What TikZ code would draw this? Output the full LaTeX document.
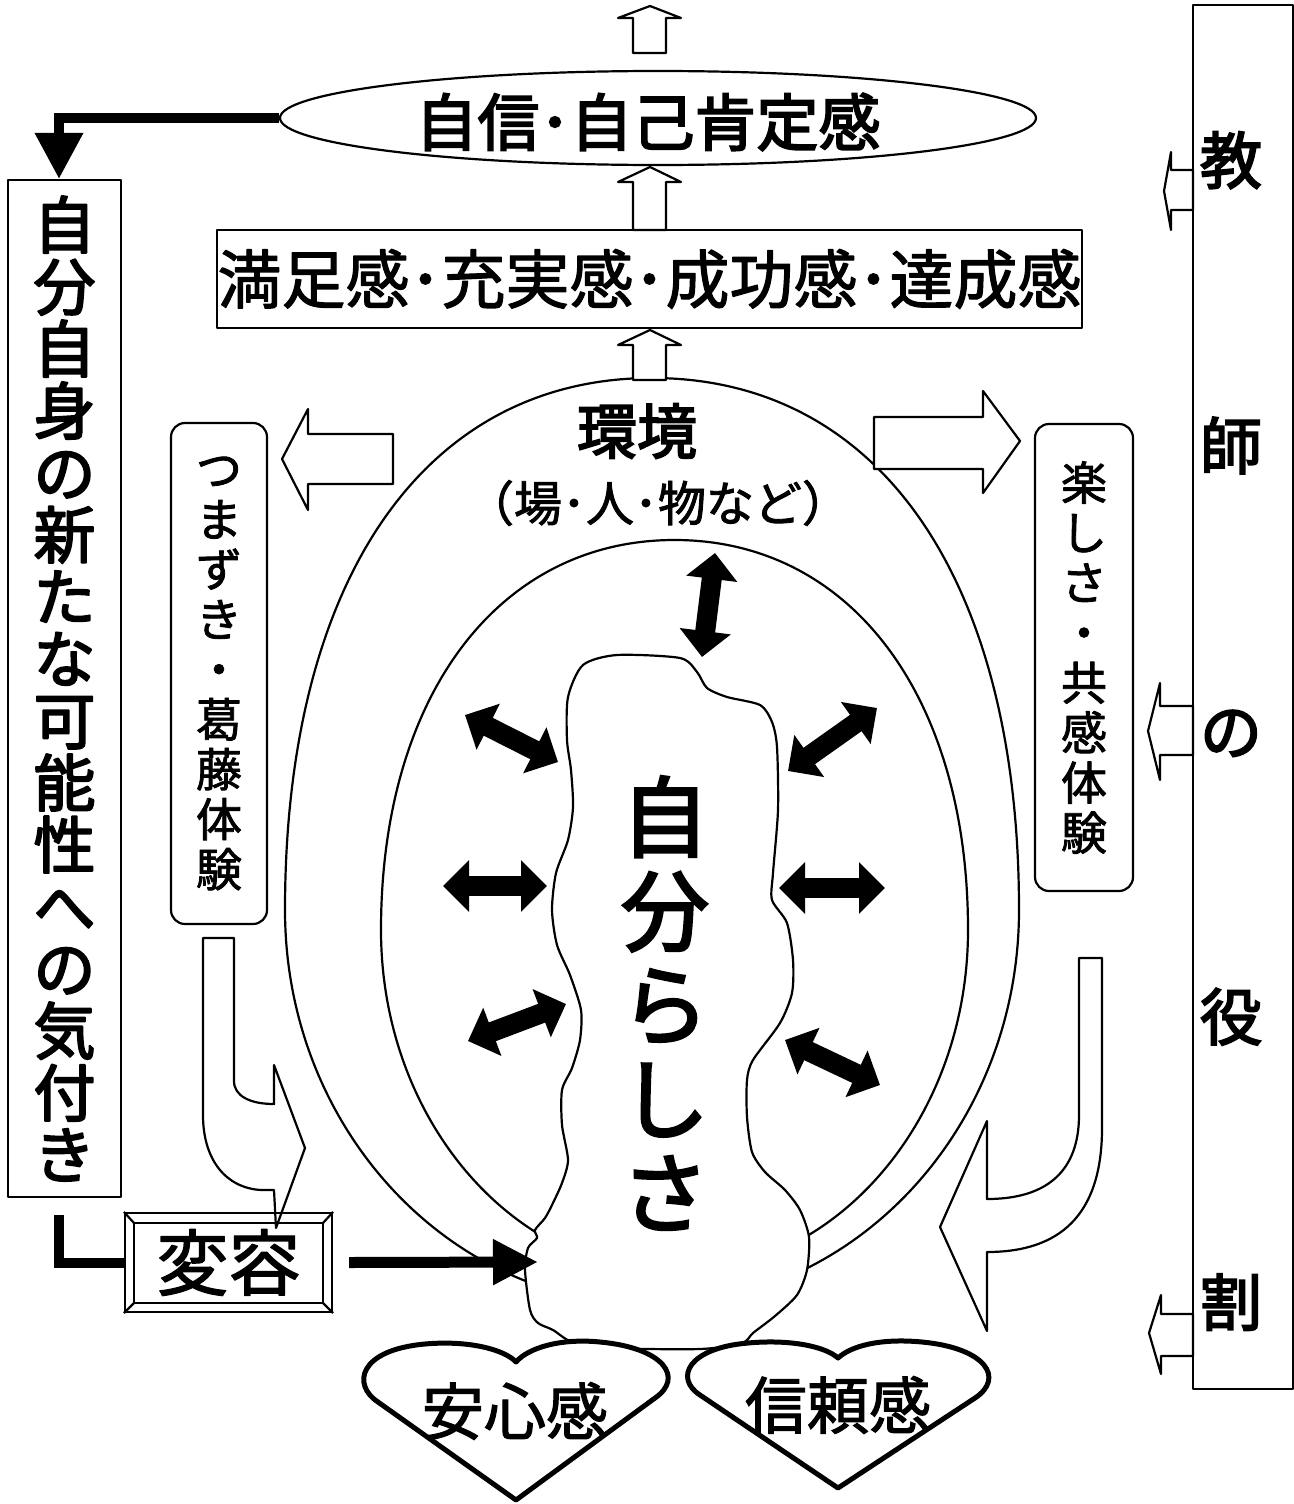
\documentclass[tikz,border=0pt]{standalone}
\usepackage{fontspec}
\setmainfont{Noto Sans CJK JP}
\newfontfamily\jpb{Noto Sans CJK JP}[FakeBold=3]
\newfontfamily\jpm{Noto Sans CJK JP}[FakeBold=1.8]
\usetikzlibrary{shapes.geometric,arrows.meta,calc}
\begin{document}
\begin{tikzpicture}[x=0.5pt,y=-0.5pt,
  ln/.style={line width=1.1pt, line join=round},
  openarr/.style={ln, fill=white},
  dblarr/.style={line width=10pt, {Triangle[width=25pt,length=13pt]}-{Triangle[width=25pt,length=13pt]}},
  thickconn/.style={line width=5pt},
  heartsh/.style={line width=2.5pt, fill=white, line join=round},
  vbox/.style={draw, ln, align=center, inner sep=0pt},
  txt/.style={inner sep=0pt, align=center},
]
\fill[white] (0,0) rectangle (1294,1504);
\useasboundingbox (0,0) rectangle (1294,1504);

% ---- environment (outer) and inner oval
\draw[ln] (285,910) .. controls (285,580) and (424,378) .. (652,378)
  .. controls (880,378) and (1019,580) .. (1019,910)
  .. controls (1019,1128) and (855,1305) .. (652,1305)
  .. controls (449,1305) and (285,1128) .. (285,910) -- cycle;
\draw[ln] (381,930) .. controls (381,696) and (498.5,540) .. (674.5,540)
  .. controls (850.5,540) and (968,696) .. (968,930)
  .. controls (968,1119) and (836.5,1273) .. (674.5,1273)
  .. controls (512.5,1273) and (381,1119) .. (381,930) -- cycle;

% ---- central blob
\draw[ln, fill=white] plot[smooth cycle, tension=0.45] coordinates {
 (568,697) (583,665) (617,655) (680,658) (697,672) (707,688) (727,697) (760,705) (772,722)
 (777,747) (778,810) (773,873) (772,900) (787,923) (793,960) (792,993) (780,1023) (753,1060)
 (747,1080) (747,1117) (752,1152) (765,1172) (785,1190) (800,1210) (809,1237) (807,1270)
 (797,1295) (775,1316) (753,1333) (742,1343) (700,1349) (608,1348) (572,1342) (553,1330)
 (538,1323) (530,1310) (525,1270) (528,1248) (537,1238) (535,1230) (545,1218) (552,1205)
 (562,1183) (568,1160) (562,1125) (562,1090) (572,1068) (580,1040) (581,1010) (570,975)
 (557,945) (552,910) (556,873) (568,840) (573,807) (571,770) (567,740)};
\node[txt, font={\jpb\fontsize{44pt}{47pt}\selectfont\lineskiplimit=-100pt}] (jibun) at (665,1003) {自\\分\\ら\\し\\さ};

\node[txt, font={\jpb\fontsize{30pt}{30pt}\selectfont}] (kankyo) at (637,431) {環境};
\node[txt, font={\jpm\fontsize{24pt}{24pt}\selectfont}] (kankyo2) at (658,503) {（場･人･物など）};

% ---- double arrows
\coordinate (d1a) at (702,657); \coordinate (d1b) at (715,553);
\coordinate (d2a) at (465,715); \coordinate (d2b) at (558,762);
\coordinate (d3a) at (443,886); \coordinate (d3b) at (547,886);
\coordinate (d4a) at (468,1041); \coordinate (d4b) at (566,1004);
\coordinate (d5a) at (788,771); \coordinate (d5b) at (877,708);
\coordinate (d6a) at (779,888); \coordinate (d6b) at (885,888);
\coordinate (d7a) at (785,1040); \coordinate (d7b) at (880,1085);
\foreach \i in {1,...,7} {\draw[dblarr] (d\i a) -- (d\i b);}

% ---- hearts
\draw[heartsh] (516,1500) -- (378,1402) .. controls (352,1385) and (358,1350) .. (425,1344)
  .. controls (470,1340) and (505,1350) .. (516,1362) .. controls (528,1348) and (560,1338) .. (600,1342)
  .. controls (665,1348) and (684,1378) .. (655,1398) -- cycle;
\node[txt, font={\jpm\fontsize{31pt}{31pt}\selectfont}] (anshin) at (515,1411) {安心感};
\draw[heartsh] (838,1488) -- (700,1395) .. controls (674,1378) and (688,1348) .. (748,1343)
  .. controls (792,1339) and (826,1347) .. (838,1358) .. controls (851,1346) and (880,1338) .. (922,1342)
  .. controls (986,1348) and (1005,1378) .. (975,1398) -- cycle;
\node[txt, font={\jpm\fontsize{31pt}{31pt}\selectfont}] (shinrai) at (838,1405) {信頼感};

% ---- top part
\node[draw, ln, ellipse, minimum width=378pt, minimum height=47pt, inner sep=0pt] (jishin) at (658,118) {};
\node[txt, font={\jpb\fontsize{31pt}{31pt}\selectfont}] (jishinT) at (648,122) {自信･自己肯定感};
\node[draw, ln, minimum width=432.5pt, minimum height=49pt, inner sep=0pt,
  font={\jpm\fontsize{32pt}{32pt}\selectfont}] (manzoku) at (649.5,279) {満足感･充実感･成功感･達成感};

% open up arrows
\draw[openarr] (650,6) -- (681,18) -- (666,18) -- (666,53) -- (633,53) -- (633,18) -- (618,18) -- cycle;
\draw[openarr] (650,167) -- (681,182) -- (666,182) -- (666,230) -- (633,230) -- (633,182) -- (618,182) -- cycle;
\draw[openarr] (650,330) -- (681,345) -- (666,345) -- (666,380) -- (633,380) -- (633,345) -- (618,345) -- cycle;

% ---- left column
\node[vbox, minimum width=56.5pt, minimum height=508.5pt,
  font={\jpb\fontsize{31pt}{31pt}\selectfont\lineskiplimit=-100pt}] (kizuki) at (64.5,688.5)
  {自\\分\\自\\身\\の\\新\\た\\な\\可\\能\\性\\へ\\の\\気\\付\\き};
\draw[thickconn, -{Triangle[width=23pt,length=23pt]}] (jishin.west) -| ([xshift=-2.75pt]kizuki.north);

% ---- side boxes
\node[vbox, rounded corners=7pt, minimum width=48pt, minimum height=250.5pt,
  font={\jpm\fontsize{23pt}{25pt}\selectfont\lineskiplimit=-100pt}] (tsumazuki) at (219,673.5)
  {つ\\ま\\ず\\き\\・\\葛\\藤\\体\\験};
\node[vbox, rounded corners=7pt, minimum width=49pt, minimum height=233.5pt,
  font={\jpm\fontsize{23pt}{25pt}\selectfont\lineskiplimit=-100pt}] (tanoshi) at (1084,657.5)
  {楽\\し\\さ\\・\\共\\感\\体\\験};
% big open arrows
\draw[openarr] (282,459) -- (308,409) -- (308,434) -- (393,434) -- (393,484) -- (308,484) -- (308,510) -- cycle;
\draw[openarr] (1020,441) -- (983,391) -- (983,417) -- (874,417) -- (874,469) -- (983,469) -- (983,493) -- cycle;

% curved open arrows
\draw[openarr] (203,938) -- (234,938) -- (234,1081) .. controls (234,1096) and (250,1104) .. (274,1104)
  -- (274,1065) -- (305,1148) -- (276,1228) -- (274,1190) -- (261,1190)
  .. controls (226,1188) and (203,1160) .. (203,1115) -- cycle;
\draw[openarr] (1079,958) -- (1102,958) -- (1102,1131) .. controls (1101,1215) and (1060,1252) .. (987,1252)
  -- (987,1331) -- (940,1227) -- (987,1121) -- (987,1199)
  .. controls (1046,1199) and (1079,1172) .. (1079,1115) -- cycle;

% ---- teacher column
\node[draw, ln, minimum width=50pt, minimum height=692pt, inner sep=0pt] (kyoshi) at (1243,697) {};
\node[txt, font={\jpb\fontsize{31pt}{142.75pt}\selectfont\lineskiplimit=-100pt}] (kyoshiT) at (1231,731) {教\\師\\の\\役\\割};
\draw[openarr] (1164,191) -- (1171,152) -- (1171,170) -- (1193,170) -- (1193,210) -- (1171,210) -- (1171,230) -- cycle;
\draw[openarr] (1148,731) -- (1160,683) -- (1160,706) -- (1193,706) -- (1193,755) -- (1160,755) -- (1160,780) -- cycle;
\draw[openarr] (1149,1333) -- (1161,1295) -- (1161,1314) -- (1193,1314) -- (1193,1356) -- (1161,1356) -- (1161,1374) -- cycle;

% ---- henyo box
\node[draw, ln, minimum width=103.5pt, minimum height=49.5pt, inner sep=0pt,
  font={\jpm\fontsize{36pt}{36pt}\selectfont}] (henyo) at (228.5,1262.5) {変容};
\draw[ln] ($(henyo.north west)+(10,11)$) rectangle ($(henyo.south east)+(-10,-10)$);
\draw[ln] (henyo.north west) -- +(10,11);
\draw[ln] (henyo.north east) -- +(-10,11);
\draw[ln] (henyo.south west) -- +(10,-10);
\draw[ln] (henyo.south east) -- +(-10,-10);
\coordinate (Ltop) at (59,1215);
\draw[thickconn] (Ltop) |- (henyo.west);
\coordinate (blobin) at (538,1262);
\draw[line width=5.5pt, -{Triangle[width=21.5pt,length=22.5pt]}] ([xshift=8pt]henyo.east) -- (blobin);
\end{tikzpicture}
\end{document}
